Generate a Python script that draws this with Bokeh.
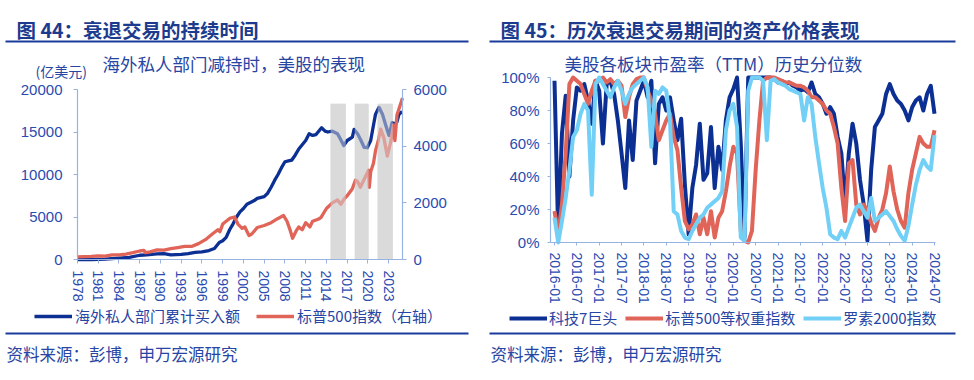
from bokeh.plotting import figure
from bokeh.models import (LinearAxis, Range1d, Label, BoxAnnotation, Legend, LegendItem,
                          FixedTicker, PrintfTickFormatter, ColumnDataSource)
from bokeh.layouts import row
from bokeh.embed import file_html
from bokeh.resources import INLINE

CJK = "Noto Sans CJK SC"
LAT = "Liberation Sans"

NAVY = "#0c2f93"
RED = "#e06458"
SKY = "#72d0f7"
TITLE_C = "#1c3b8e"
TEXT_C = "#2745a3"
TICK_C = "#2a4bb0"
RULE_C = "#1a3c9c"
AXIS_C = "#97b3e3"

# ---------------- left chart data ----------------
flow_year = [1978.0, 1980.0, 1982.0, 1984.0, 1985.5, 1987.0, 1988.0, 1989.5, 1990.5, 1991.5,
             1993.0, 1994.0, 1995.0, 1996.0, 1997.0, 1997.8, 1998.5, 1999.0, 1999.5, 2000.0,
             2000.5, 2001.0, 2001.5, 2002.0, 2002.5, 2003.0, 2003.5, 2004.0, 2005.0, 2005.5,
             2006.0, 2006.5, 2007.0, 2007.5, 2008.0, 2008.5, 2009.0, 2009.5, 2010.0, 2010.5,
             2011.0, 2011.5, 2012.0, 2012.5, 2013.0, 2013.3, 2013.8, 2014.2, 2014.85, 2015.6,
             2016.0, 2016.5, 2017.0, 2017.75, 2018.0, 2018.5, 2019.0, 2019.45, 2019.9, 2020.4,
             2020.8, 2021.1, 2021.6, 2022.1, 2022.5, 2022.8, 2023.05, 2023.5, 2023.8, 2024.2,
             2024.5, 2024.95]
flow_value = [0, 0, 50, 150, 250, 500, 550, 650, 700, 550,
              600, 700, 850, 900, 1050, 1300, 2000, 2200, 2600, 3500,
              4200, 5000, 5600, 6000, 6500, 6700, 6900, 7200, 7400, 7800,
              8500, 9300, 10000, 10800, 11500, 11600, 11700, 12300, 13000, 13500,
              14000, 14800, 14600, 14700, 15200, 15500, 15100, 15000, 15100, 14800,
              14200, 13400, 14000, 14400, 15300, 14800, 14000, 13200, 13150, 14000,
              15800, 17100, 17900, 17100, 16000, 15200, 14600, 16100, 15900, 16200,
              17100, 17400]

spx_year = [1978.0, 1979.0, 1980.0, 1981.0, 1982.0, 1983.0, 1984.0, 1985.0, 1986.0, 1987.0,
            1987.6, 1987.8, 1988.5, 1989.5, 1990.5, 1991.5, 1992.5, 1993.5, 1994.5, 1995.5,
            1996.5, 1997.5, 1998.3, 1998.6, 1999.0, 1999.5, 2000.0, 2000.7, 2001.2, 2001.8,
            2002.2, 2002.8, 2003.2, 2004.0, 2005.0, 2006.0, 2007.0, 2007.8, 2008.3, 2008.8,
            2009.1, 2009.6, 2010.0, 2010.5, 2011.0, 2011.6, 2012.0, 2012.8, 2013.2, 2014.0,
            2014.85, 2015.6, 2016.08, 2016.6, 2017.0, 2017.75, 2018.2, 2018.5, 2018.9, 2019.6,
            2020.1, 2020.2, 2020.4, 2020.8, 2021.1, 2021.5, 2021.85, 2022.3, 2022.8, 2023.3,
            2023.7, 2023.9, 2024.2, 2024.6, 2025.0]
spx_value = [95, 100, 110, 130, 120, 160, 165, 190, 240, 300,
             320, 240, 270, 340, 330, 380, 420, 460, 460, 560,
             700, 900, 1050, 980, 1250, 1350, 1450, 1500, 1250, 1100,
             1150, 850, 900, 1130, 1200, 1300, 1450, 1550, 1350, 1000,
             750, 1000, 1150, 1050, 1300, 1150, 1350, 1420, 1480, 1800,
             2000, 2100, 1950, 2150, 2250, 2500, 2800, 2750, 2550, 2900,
             3150, 2550, 3100, 3400, 3850, 4200, 4600, 4300, 3650, 4150,
             4750, 4200, 5100, 5400, 5700]

band_start = [2014.6, 2018.1, 2021.4]
band_end = [2016.8, 2020.1, 2023.6]
band_top = [5500, 5500, 5500]

left_x_ticks = [1978, 1981, 1984, 1987, 1990, 1993, 1996, 1999, 2002, 2005, 2008,
                2011, 2014, 2017, 2020, 2023]
left_y_ticks = [0, 5000, 10000, 15000, 20000]
right_y_ticks = [0, 2000, 4000, 6000]

# ---------------- right chart data ----------------
months = [f"{y}-{m:02d}" for y in range(2016, 2025) for m in range(1, 13)][:103]

tech7 = [98, 5, 66, 89, 40, 74, 94, 92, 96, 86, 72, 98,
         92, 60, 96, 98, 90, 74, 54, 33, 74, 50, 86, 92,
         98, 88, 98, 48, 84, 88, 80, 88, 74, 62, 75, 35,
         5, 33, 47, 72, 38, 42, 70, 33, 58, 44, 74, 88,
         93, 100, 60, 3, 100, 100, 100, 100, 100, 100, 100, 99,
         97, 98, 96, 97, 95, 94, 92, 93, 91, 97, 90, 88,
         84, 78, 82, 78, 64, 54, 23, 54, 72, 60, 38, 23,
         1, 44, 70, 74, 78, 90, 96, 90, 86, 84, 80, 74,
         82, 86, 88, 80, 90, 95, 78]
sp_ew = [19, 5, 23, 54, 96, 100, 98, 96, 90, 84, 92, 98,
         98, 100, 97, 99, 96, 98, 95, 76, 88, 96, 99, 100,
         100, 92, 86, 78, 62, 68, 74, 78, 64, 56, 33, 13,
         8, 11, 17, 5, 15, 5, 19, 3, 15, 19, 31, 46,
         58, 54, 7, 1, 0, 7, 44, 74, 98, 100, 100, 100,
         99, 98, 97, 97, 96, 95, 95, 94, 92, 88, 88, 86,
         84, 80, 78, 70, 60, 33, 13, 48, 50, 23, 17, 23,
         19, 12, 7, 15, 20, 30, 46, 31, 20, 13, 9, 30,
         44, 54, 64, 60, 58, 58, 68]
r2000 = [15, 0, 13, 27, 44, 64, 68, 78, 84, 80, 29, 96,
         100, 96, 92, 88, 94, 98, 92, 84, 90, 94, 96, 98,
         100, 94, 58, 92, 90, 94, 92, 74, 19, 17, 7, 3,
         2, 7, 11, 15, 17, 21, 23, 25, 27, 31, 68, 80,
         84, 70, 3, 1, 92, 100, 100, 100, 98, 62, 98, 99,
         97, 96, 95, 93, 92, 91, 90, 74, 88, 84, 64, 48,
         33, 21, 5, 3, 2, 7, 3, 9, 15, 21, 23, 19,
         15, 27, 13, 15, 17, 19, 16, 13, 8, 4, 1, 10,
         23, 35, 44, 50, 46, 44, 65]

right_x_tick_labels = ["2016-01", "2016-07", "2017-01", "2017-07", "2018-01", "2018-07",
                       "2019-01", "2019-07", "2020-01", "2020-07", "2021-01", "2021-07",
                       "2022-01", "2022-07", "2023-01", "2023-07", "2024-01", "2024-07"]
pct_ticks = [0, 20, 40, 60, 80, 100]


def ym_to_x(s):
    y, m = s.split("-")
    return int(y) + (int(m) - 1) / 12.0


# ---------------- layout (pixel geometry) ----------------
W, H = 486, 376


def span_range(v0, p0, v1, p1, size, flip=False):
    """Range1d so that value v0 sits at pixel p0 and v1 at pixel p1 (pixels from left/top)."""
    k = (v1 - v0) / (p1 - p0)
    a = v0 - p0 * k
    b = v0 + (size - p0) * k
    return (a, b) if not flip else (b, a)


def text(p, x, y, t, size, color, bold=False, font=CJK):
    p.add_layout(Label(x=x, y=H - y, x_units="screen", y_units="screen",
                       text=t, text_font=font, text_font_size=f"{size}px", text_color=color,
                       text_font_style="bold" if bold else "normal", text_baseline="middle",
                       text_align="left"))


def rule(p, x0, x1, y0, y1):
    p.add_layout(BoxAnnotation(left=x0, right=x1, top=H - y0, bottom=H - y1,
                               left_units="screen", right_units="screen",
                               top_units="screen", bottom_units="screen",
                               fill_color=RULE_C, fill_alpha=1.0, line_color=None,
                               line_alpha=0))


def style_axis(ax, tick_out, standoff, size):
    ax.axis_line_color = AXIS_C
    ax.axis_line_width = 1.2
    ax.major_tick_line_color = AXIS_C
    ax.major_tick_in = 0
    ax.major_tick_out = tick_out
    ax.minor_tick_line_color = None
    ax.major_label_standoff = standoff
    ax.major_label_text_font = LAT
    ax.major_label_text_font_size = f"{size}px"
    ax.major_label_text_color = TICK_C


def base_fig(xr, yr):
    p = figure(width=W, height=H, x_range=Range1d(*xr), y_range=Range1d(*yr),
               output_backend="svg", toolbar_location=None,
               min_border=0, min_border_left=0, min_border_right=0,
               min_border_top=0, min_border_bottom=0)
    p.outline_line_color = None
    p.grid.visible = False
    p.border_fill_color = "white"
    p.background_fill_color = "white"
    return p


# ---------------- left figure ----------------
X0_L, X1_L = 1978, 2025
lx = span_range(X0_L, 77, X1_L, 402, W)
ly = span_range(20000, 89, 0, 259, H)
ly = (min(ly), max(ly))
lyr = span_range(6000, 89, 0, 259, H)
lyr = (min(lyr), max(lyr))

p1 = base_fig(lx, ly)
p1.extra_y_ranges = {"right": Range1d(*lyr)}

bands = ColumnDataSource(dict(left=band_start, right=band_end, top=band_top))
p1.quad(left="left", right="right", bottom=0, top="top", source=bands, y_range_name="right",
        fill_color="#dadada", line_color=None)
r_flow = p1.line(flow_year, flow_value, line_width=3.3, color=NAVY, line_join="round")
r_spx = p1.line(spx_year, spx_value, y_range_name="right", line_width=3.3, color=RED,
                line_join="round")
p1.quad(left="left", right="right", bottom=0, top="top", source=bands, y_range_name="right",
        fill_color="#dadada", fill_alpha=0.5, line_color=None)

xa = p1.xaxis[0]
xa.ticker = FixedTicker(ticks=left_x_ticks)
xa.major_label_orientation = "vertical"
xa.fixed_location = 0
xa.bounds = (X0_L, X1_L)
style_axis(xa, 4, 7, 14)
ya = p1.yaxis[0]
ya.ticker = FixedTicker(ticks=left_y_ticks)
ya.fixed_location = X0_L
ya.bounds = (0, 20000)
style_axis(ya, 4, 11, 15)
ax_r = LinearAxis(y_range_name="right", ticker=FixedTicker(ticks=right_y_ticks))
ax_r.fixed_location = X1_L
ax_r.bounds = (0, 6000)
style_axis(ax_r, 4, 7, 15)
p1.add_layout(ax_r, "right")

leg1 = Legend(items=[LegendItem(label="海外私人部门累计买入额", renderers=[r_flow]),
                     LegendItem(label="标普500指数（右轴）", renderers=[r_spx])],
              location=(34, H - 326), orientation="horizontal",
              label_text_font=CJK, label_text_font_size="15px", label_text_color=TEXT_C,
              glyph_width=38, glyph_height=20, label_height=20, label_standoff=3,
              spacing=16, padding=0, margin=0, border_line_color=None,
              background_fill_alpha=0)
p1.add_layout(leg1)

text(p1, 16, 28.5, "图 44：衰退交易的持续时间", 19.5, TITLE_C, bold=True)
rule(p1, 5, 468, 40, 42)
text(p1, 35, 70, "(亿美元)", 14, TEXT_C)
text(p1, 102, 62.5, "海外私人部门减持时，美股的表现", 17.5, TEXT_C)
rule(p1, 5, 468, 332, 334)
text(p1, 6, 353.5, "资料来源：彭博，申万宏源研究", 16.5, TEXT_C)

# ---------------- right figure ----------------
OX = W  # right figure starts at this page x
X0_R, X1_R = 2015.9105, 2024.522
rx = span_range(2016.0, 554 - OX, 2024.5, 934 - OX, W)
ry = span_range(100, 77, 0, 242, H)
ry = (min(ry), max(ry))

mx = [ym_to_x(s) for s in months]
p2 = base_fig(rx, ry)

r_t7 = p2.line(mx, tech7, line_width=4, color=NAVY, line_join="round")
r_ew = p2.line(mx, sp_ew, line_width=4, color=RED, line_join="round")
r_rs = p2.line(mx, r2000, line_width=4, color=SKY, line_join="round")

tick_pos = [ym_to_x(s) for s in right_x_tick_labels]
xb = p2.xaxis[0]
xb.ticker = FixedTicker(ticks=tick_pos)
xb.major_label_overrides = {tp: lab for tp, lab in zip(tick_pos, right_x_tick_labels)}
xb.major_label_orientation = "vertical"
xb.fixed_location = 0
xb.bounds = (X0_R, X1_R)
style_axis(xb, 3, 7, 14)
yb = p2.yaxis[0]
yb.ticker = FixedTicker(ticks=pct_ticks)
yb.formatter = PrintfTickFormatter(format="%d%%")
yb.fixed_location = X0_R
yb.bounds = (0, 100)
style_axis(yb, 3, 8, 15)

leg2 = Legend(items=[LegendItem(label="科技7巨头", renderers=[r_t7]),
                     LegendItem(label="标普500等权重指数", renderers=[r_ew]),
                     LegendItem(label="罗素2000指数", renderers=[r_rs])],
              location=(509 - OX, H - 328), orientation="horizontal",
              label_text_font=CJK, label_text_font_size="15px", label_text_color=TEXT_C,
              glyph_width=38, glyph_height=20, label_height=20, label_standoff=2,
              spacing=8, padding=0, margin=0, border_line_color=None,
              background_fill_alpha=0)
p2.add_layout(leg2)

text(p2, 500 - OX, 28.5, "图 45：历次衰退交易期间的资产价格表现", 19.5, TITLE_C, bold=True)
rule(p2, 489 - OX, 955 - OX, 40, 42)
text(p2, 564 - OX, 63, "美股各板块市盈率（TTM）历史分位数", 17.5, TEXT_C)
rule(p2, 489 - OX, 955 - OX, 332, 334)
text(p2, 490 - OX, 353.5, "资料来源：彭博，申万宏源研究", 16.5, TEXT_C)

layout = row(p1, p2)
open("out.html", "w").write(file_html(layout, INLINE))
